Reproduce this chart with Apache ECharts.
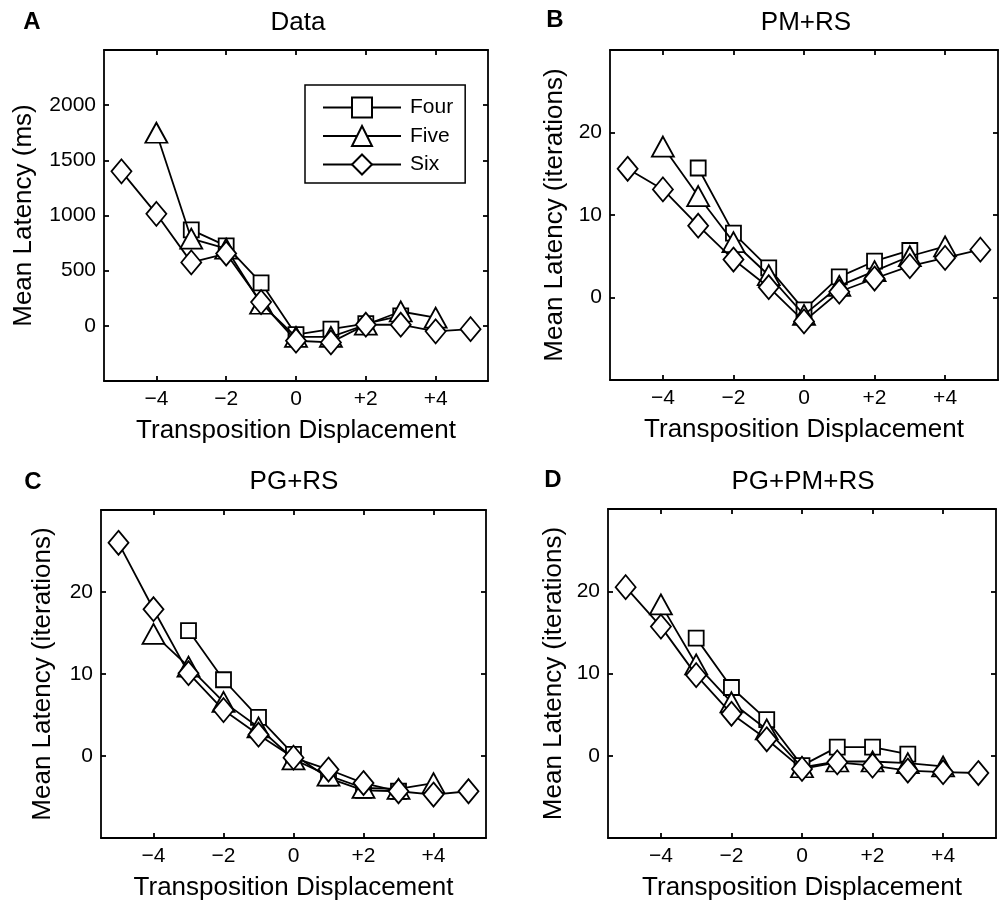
<!DOCTYPE html>
<html>
<head>
<meta charset="utf-8">
<script src="https://cdn.jsdelivr.net/npm/echarts@6/dist/echarts.min.js"></script>
<style>html,body{margin:0;padding:0;background:#fff}#c{width:999px;height:902px}</style>
</head>
<body>
<div id="c"></div>
<script>
// Displacements per list length
const xFour = [-3, -2, -1, 0, 1, 2, 3];
const xFive = [-4, -3, -2, -1, 0, 1, 2, 3, 4];
const xSix  = [-5, -4, -3, -2, -1, 0, 1, 2, 3, 4, 5];
const xTicks = [-4, -2, 0, 2, 4];

// Panel A: Data (ms)
const dataFour = [870, 725, 390, -80, -30, 20, 90];
const dataFive = [1750, 790, 700, 200, -100, -100, 10, 130, 75];
const dataSix  = [1400, 1015, 575, 655, 215, -135, -150, 10, 10, -50, -30];
const dataTicks = [0, 500, 1000, 1500, 2000];

// Panel B: PM+RS (iterations)
const pmFour = [15.7, 7.8, 3.6, -1.5, 2.5, 4.4, 5.7];
const pmFive = [18.3, 12.3, 6.7, 2.7, -2.1, 1.4, 3.2, 5.0, 6.2];
const pmSix  = [15.6, 13.1, 8.7, 4.6, 1.25, -2.9, 0.7, 2.3, 3.8, 4.8, 5.8];

// Panel C: PG+RS (iterations)
const pgFour = [15.3, 9.3, 4.7, 0.2, -2.7, -4.2, -4.3];
const pgFive = [14.9, 10.9, 6.6, 3.5, -0.4, -2.4, -3.9, -4.0, -3.3];
const pgSix  = [26.0, 17.9, 10.1, 5.6, 2.6, -0.2, -1.65, -3.3, -4.3, -4.7, -4.3];

// Panel D: PG+PM+RS (iterations)
const allFour = [14.3, 8.3, 4.4, -1.2, 1.05, 1.05, 0.2];
const allFive = [18.4, 11.1, 6.5, 3.2, -1.4, -0.7, -0.7, -0.9, -1.3];
const allSix  = [20.5, 15.7, 9.8, 5.1, 2.0, -1.6, -0.8, -1.2, -1.8, -2.0, -2.1];
const iterTicks = [0, 10, 20];

const seriesNames = ['Four', 'Five', 'Six'];
const xAxisTitle = 'Transposition Displacement';

const FONT = '"Liberation Sans", Arial, Helvetica, sans-serif';
const LW = 1.8;

const panels = [
  { letter: 'A', title: 'Data', yName: 'Mean Latency (ms)', ymin: -500, ymax: 2500, yticks: dataTicks,
    grid: { left: 104, top: 50, width: 384, height: 331 }, yGap: 67, vals: [dataFour, dataFive, dataSix],
    titlePos: [298, 23], letterPos: [32, 22] },
  { letter: 'B', title: 'PM+RS', yName: 'Mean Latency (iterations)', ymin: -10, ymax: 30, yticks: iterTicks,
    grid: { left: 610, top: 50, width: 388, height: 330 }, yGap: 42, vals: [pmFour, pmFive, pmSix],
    titlePos: [806, 23], letterPos: [555, 20] },
  { letter: 'C', title: 'PG+RS', yName: 'Mean Latency (iterations)', ymin: -10, ymax: 30, yticks: iterTicks,
    grid: { left: 101, top: 510, width: 385, height: 330 }, yGap: 45, vals: [pgFour, pgFive, pgSix],
    titlePos: [294, 482], letterPos: [33, 482] },
  { letter: 'D', title: 'PG+PM+RS', yName: 'Mean Latency (iterations)', ymin: -10, ymax: 30, yticks: iterTicks,
    grid: { left: 608, top: 509, width: 388, height: 330 }, yGap: 41, vals: [allFour, allFive, allSix],
    titlePos: [803, 482], letterPos: [553, 480] }
];

const xs = [xFour, xFive, xSix];
const symbols = [
  { symbol: 'rect', size: [15, 15] },
  { symbol: 'triangle', size: [22, 20] },
  { symbol: 'diamond', size: [20, 24] }
];

function fmtX(v) {
  if (v > 0) return '+' + v;
  if (v < 0) return '\u2212' + Math.abs(v);
  return '0';
}
function fmtY(v) { return String(v); }

const grids = [], xAxes = [], yAxes = [], series = [], graphics = [];
const lineBase = { lineStyle: { color: '#000', width: LW } };
const tickBase = (vals) => ({ show: true, inside: true, length: 5, customValues: vals, lineStyle: { color: '#000', width: LW } });

panels.forEach((p, i) => {
  grids.push(Object.assign({ containLabel: false }, p.grid));
  xAxes.push({
    type: 'value', gridIndex: i, min: -5.5, max: 5.5, position: 'bottom',
    name: xAxisTitle, nameLocation: 'middle', nameGap: 37,
    nameTextStyle: { fontFamily: FONT, fontSize: 26, color: '#000' },
    axisLine: { show: true, onZero: false, ...lineBase },
    axisTick: tickBase(xTicks),
    axisLabel: { show: true, customValues: xTicks, formatter: fmtX, margin: 8, fontFamily: FONT, fontSize: 21, color: '#000' },
    splitLine: { show: false }
  });
  xAxes.push({
    type: 'value', gridIndex: i, min: -5.5, max: 5.5, position: 'top',
    axisLine: { show: true, onZero: false, ...lineBase },
    axisTick: tickBase(xTicks),
    axisLabel: { show: false },
    splitLine: { show: false }
  });
  yAxes.push({
    type: 'value', gridIndex: i, min: p.ymin, max: p.ymax, position: 'left',
    name: p.yName, nameLocation: 'middle', nameGap: p.yGap, nameRotate: 90,
    nameTextStyle: { fontFamily: FONT, fontSize: 26, color: '#000' },
    axisLine: { show: true, onZero: false, ...lineBase },
    axisTick: tickBase(p.yticks),
    axisLabel: { show: true, customValues: p.yticks, formatter: fmtY, margin: 8, fontFamily: FONT, fontSize: 21, color: '#000' },
    splitLine: { show: false }
  });
  yAxes.push({
    type: 'value', gridIndex: i, min: p.ymin, max: p.ymax, position: 'right',
    axisLine: { show: true, onZero: false, ...lineBase },
    axisTick: tickBase(p.yticks),
    axisLabel: { show: false },
    splitLine: { show: false }
  });

  p.vals.forEach((vals, k) => {
    series.push({
      name: seriesNames[k], type: 'line', xAxisIndex: 2 * i, yAxisIndex: 2 * i,
      data: xs[k].map((x, j) => [x, vals[j]]),
      symbol: symbols[k].symbol, symbolSize: symbols[k].size, showSymbol: true,
      clip: false, animation: false, silent: true,
      lineStyle: { color: '#000', width: LW },
      itemStyle: { color: '#fff', borderColor: '#000', borderWidth: LW },
      z: 2 + k
    });
  });

  graphics.push({
    type: 'text', x: p.titlePos[0], y: p.titlePos[1],
    style: { text: p.title, font: '26px ' + FONT, fill: '#000', textAlign: 'center', textVerticalAlign: 'middle' }
  });
  graphics.push({
    type: 'text', x: p.letterPos[0], y: p.letterPos[1],
    style: { text: p.letter, font: 'bold 24px ' + FONT, fill: '#000', textAlign: 'center', textVerticalAlign: 'middle' }
  });
});

const chart = echarts.init(document.getElementById('c'), null, { renderer: 'canvas' });
chart.setOption({
  animation: false,
  backgroundColor: '#fff',
  grid: grids,
  xAxis: xAxes,
  yAxis: yAxes,
  series: series,
  graphic: graphics,
  legend: {
    data: seriesNames, orient: 'vertical', left: 305, top: 85,
    selectedMode: false, backgroundColor: '#fff',
    borderColor: '#000', borderWidth: 1.5, borderRadius: 0,
    padding: [10, 12, 6, 17], itemWidth: 78, itemHeight: 25, itemGap: 3.5,
    textStyle: { fontFamily: FONT, fontSize: 21, color: '#000', lineHeight: 25, padding: [0, 0, 0, 4] }
  }
});
</script>
</body>
</html>
